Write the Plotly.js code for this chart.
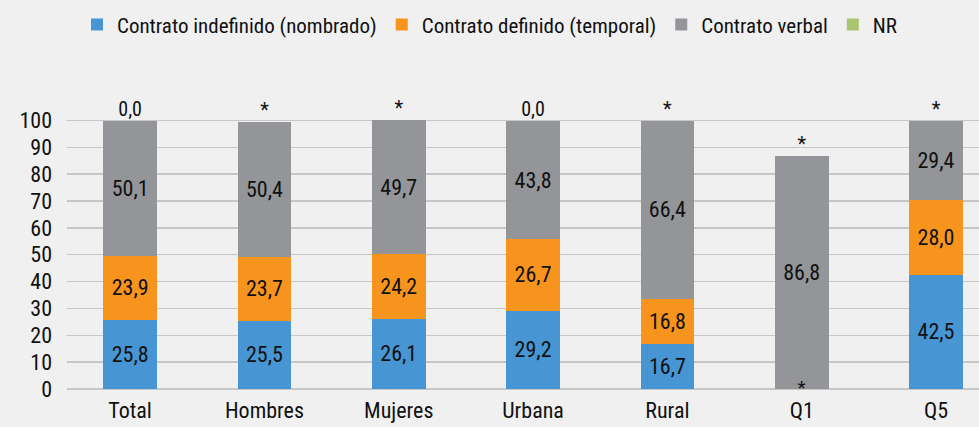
<!DOCTYPE html>
<html>
<head>
<meta charset="utf-8">
<script src="https://cdn.plot.ly/plotly-3.0.1.min.js"></script>
<style>
  body { margin: 0; background: #f0f0f0; }
  #chart { width: 979px; height: 427px; }
</style>
</head>
<body>
<div id="chart"></div>
<script>
// categorías y series (porcentajes)
var categorias = ['Total', 'Hombres', 'Mujeres', 'Urbana', 'Rural', 'Q1', 'Q5'];
var indefinido = [25.8, 25.5, 26.1, 29.2, 16.7, null, 42.5];
var definido   = [23.9, 23.7, 24.2, 26.7, 16.8, null, 28.0];
var verbal     = [50.1, 50.4, 49.7, 43.8, 66.4, 86.8, 29.4];
var nrLabels   = ['0,0', '*', '*', '0,0', '*', '*', '*'];
var baseLabels = ['', '', '', '', '', '*', ''];

var fuente = '"Roboto Condensed", "Liberation Sans Narrow", "DejaVu Sans Condensed", sans-serif';

function fmt(arr) {
    return arr.map(function (v) { return v == null ? '' : v.toFixed(1).replace('.', ','); });
}

// altura total de cada barra para ubicar la etiqueta de NR
var totales = categorias.map(function (c, i) {
    return (indefinido[i] || 0) + (definido[i] || 0) + (verbal[i] || 0);
});

function serie(nombre, valores, color) {
    return {
        type: 'bar',
        name: nombre,
        x: categorias,
        y: valores,
        width: 0.4,
        marker: { color: color },
        text: fmt(valores),
        textposition: 'inside',
        insidetextanchor: 'middle',
        textfont: { family: fuente, size: 22, color: '#111' },
        hoverinfo: 'skip'
    };
}

var data = [
    serie('Contrato indefinido (nombrado)', indefinido, '#4796d3'),
    serie('Contrato definido (temporal)', definido, '#f7941e'),
    serie('Contrato verbal', verbal, '#939598'),
    {
        type: 'bar', name: 'NR', x: categorias, y: categorias.map(function () { return 0; }),
        width: 0.4, marker: { color: '#a9c46c' }, hoverinfo: 'skip'
    },
    {
        type: 'scatter', mode: 'text', x: categorias, y: totales, text: nrLabels,
        textposition: 'top center', showlegend: false, cliponaxis: false,
        textfont: { family: fuente, size: 20, color: '#111' }, hoverinfo: 'skip'
    },
    {
        type: 'scatter', mode: 'text', x: categorias, y: categorias.map(function () { return 0; }),
        text: baseLabels, textposition: 'middle center', showlegend: false, cliponaxis: false,
        textfont: { family: fuente, size: 19, color: '#111' }, hoverinfo: 'skip'
    }
];

var layout = {
    width: 979,
    height: 427,
    barmode: 'stack',
    paper_bgcolor: '#f0f0f0',
    plot_bgcolor: '#f0f0f0',
    margin: { l: 67, r: 0, t: 107, b: 38 },
    font: { family: fuente, size: 21, color: '#111' },
    showlegend: true,
    legend: {
        orientation: 'h',
        xref: 'container', yref: 'container',
        x: 0.5, xanchor: 'center',
        y: 0.99, yanchor: 'top',
        font: { family: fuente, size: 21, color: '#111' },
        traceorder: 'normal',
        itemwidth: 30
    },
    xaxis: {
        range: [-0.47, 6.32],
        showgrid: false,
        zeroline: false,
        showline: false,
        ticks: '',
        ticklabelstandoff: 6,
        tickfont: { family: fuente, size: 22, color: '#111' }
    },
    yaxis: {
        range: [0, 105],
        tickvals: [0, 10, 20, 30, 40, 50, 60, 70, 80, 90, 100],
        showgrid: true,
        gridcolor: '#c6c6c6',
        gridwidth: 1.5,
        zeroline: true,
        zerolinecolor: '#c6c6c6',
        zerolinewidth: 1.5,
        ticks: '',
        ticklabelstandoff: 14,
        tickfont: { family: fuente, size: 22, color: '#111' }
    }
};

Plotly.newPlot('chart', data, layout, { displayModeBar: false, staticPlot: true });
</script>
</body>
</html>
